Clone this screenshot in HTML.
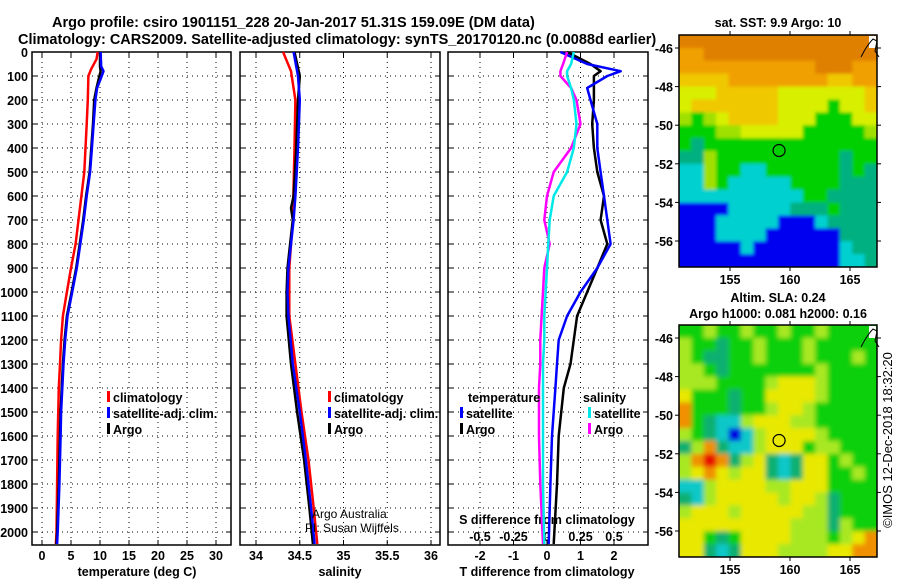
<!DOCTYPE html>
<html><head><meta charset="utf-8">
<style>
html,body{margin:0;padding:0;background:#fff;}
svg{display:block;font-family:"Liberation Sans",sans-serif;}
.b{font-weight:bold;}
</style></head>
<body>
<svg id="fig" width="900" height="580" viewBox="0 0 900 580" xmlns="http://www.w3.org/2000/svg">
<defs>
<filter id="soft" x="0" y="0" width="1" height="1"><feGaussianBlur stdDeviation="2.5"/></filter>
<filter id="soft2" x="0" y="0" width="1" height="1"><feGaussianBlur stdDeviation="1.5"/></filter>
<clipPath id="clipTop"><rect x="679" y="35" width="198" height="232"/></clipPath>
<clipPath id="clipBot"><rect x="679" y="325" width="198" height="232"/></clipPath>
</defs>
<text class="b" x="52" y="27" font-size="14.5">Argo profile: csiro 1901151_228 20-Jan-2017 51.31S 159.09E (DM data)</text>
<text class="b" x="18" y="44" font-size="14.5">Climatology: CARS2009. Satellite-adjusted climatology: synTS_20170120.nc (0.0088d earlier)</text>
<g id="layer"></g>
</svg>
<script>
// ---------- data ----------
const depthTicks=[0,100,200,300,400,500,600,700,800,900,1000,1100,1200,1300,1400,1500,1600,1700,1800,1900,2000];
const tempTicks=[0,5,10,15,20,25,30];
const salTicks=[34,34.5,35,35.5,36];
const salTickLabels=["34","34.5","35","35.5","36"];
const tdTicks=[-2,-1,0,1,2];
const sdTicks=[-0.5,-0.25,0,0.25,0.5];
const sdTickLabels=["-0.5","-0.25","0","0.25","0.5"];

const tDepthRed=[0,30,70,100,200,300,400,500,600,700,800,900,1000,1100,1200,1300,1400,1600,1800,2000,2050];
const tempClim=[9.6,9.4,8.5,8.0,7.9,7.7,7.5,7.3,6.8,6.3,5.8,5.0,4.3,3.6,3.3,3.1,2.9,2.7,2.6,2.5,2.4];
const tDepth=[0,60,80,100,150,200,300,400,500,600,700,800,900,1000,1100,1200,1300,1400,1500,1600,1800,2000,2050];
const tempSat=[10.1,10.2,10.6,10.3,9.5,9.2,8.9,8.6,8.3,7.7,7.2,6.6,6.0,5.2,4.4,4.0,3.7,3.5,3.3,3.2,3.0,2.7,2.6];
const tempArgo=[10.0,10.0,10.1,9.9,9.4,9.0,8.8,8.5,8.2,7.6,7.1,6.5,5.9,5.1,4.3,3.9,3.6,3.4,3.2,3.1,2.9,2.6,2.5];

const sDepthRed=[0,80,200,400,700,900,1100,1300,1500,1700,1900,2050];
const salClim=[34.31,34.4,34.45,34.44,34.42,34.38,34.38,34.45,34.52,34.6,34.66,34.7];
const sDepth=[0,100,200,400,600,650,700,800,900,1000,1100,1300,1500,1700,1900,2050];
const salSat=[34.43,34.48,34.5,34.48,34.45,34.44,34.43,34.4,34.37,34.36,34.37,34.42,34.5,34.57,34.63,34.67];
const salArgo=[34.44,34.5,34.48,34.46,34.43,34.4,34.42,34.39,34.36,34.35,34.35,34.4,34.47,34.55,34.61,34.65];

const dDepth=[0,50,80,100,150,200,300,400,500,600,700,800,900,1000,1100,1200,1300,1400,1600,1800,2050];
const tdSat=[0.4,1.2,2.2,1.8,1.2,1.3,1.5,1.5,1.6,1.7,1.8,1.9,1.5,1.0,0.6,0.35,0.3,0.25,0.15,0.1,0.05];
const tdArgo=[0.6,1.3,1.6,1.4,1.4,1.4,1.35,1.4,1.5,1.7,1.6,1.8,1.5,1.2,0.9,0.8,0.7,0.5,0.35,0.3,0.2];
const sdSat=[0.2,0.18,0.15,0.15,0.18,0.2,0.22,0.2,0.15,0.05,0.02,0.01,0,-0.01,-0.02,-0.02,-0.03,-0.03,-0.03,-0.03,-0.02];
const sdArgo=[0.15,0.12,0.1,0.1,0.18,0.22,0.25,0.18,0.05,0.0,-0.02,0.02,-0.02,-0.03,-0.04,-0.05,-0.05,-0.06,-0.06,-0.05,-0.03];

const lonTicks=[155,160,165];
const latTicks=[-46,-48,-50,-52,-54,-56];
const argoLon=159.09, argoLat=-51.31;
const sstRows=["OOOOOOOOOOOOOOOO","ooOOOOOOOOOOOOOO","oooooooooooOOOoo","YYYYooooooooYYoo","yyyYYYYYyyyyyyyY","yYYYYYYYyyyyGyyY","gGgyYYYYyyyGGGyy","GGGggyyyyyGGGGGg","GTGGGGGGGGGGGGGG","TTgGGGGGGGGGGTGG","CCgGGCCGGGGGGTGT","CCgGCCCCCGGGGTTT","CCCCCCCCCCGGTTTT","BBBBCCCCCTTTGTTT","BBBCCCCCBBBCTTTT","BBBCCCCBBBBBBTTT","BBBBBCBBBBBBBCTT","BBBBBBBBBBBBBCCT"];
const slaRows=["GGgGGgGGgGGgGGGG","gGGTGGgGGGgGGGGG","gGTTGGgGGGgGGGgG","ggGTGGGGGGGgGGGG","gggGGGGgyyygGGGG","yGGGTGGyyyygGGGG","oGGGTGGgyygGGGGG","oGTCCgyyyggGGGGG","gGTCBCgyyyygGGGG","TgoTCCgyyyGggGGG","goRoTgyTCTyyGgGG","gyoygyyTCTyyGGgG","CCgyyyyggyyyGGGG","TCgyyyyygyygTGGG","gyyygyyyyyggTGGG","yyyyyyyyygggTgGG","yyGTGyyyygggGgyo","yyTCTyyyggggyyoo"];

// ---------- helpers ----------
const NS="http://www.w3.org/2000/svg";
const L=document.getElementById('layer');
function mk(tag,attrs,parent){const e=document.createElementNS(NS,tag);for(const k in attrs)e.setAttribute(k,attrs[k]);(parent||L).appendChild(e);return e;}
function txt(x,y,s,size,anchor,bold){const t=mk('text',{x:x,y:y,'font-size':size,'text-anchor':anchor||'start','font-weight':bold===false?'normal':'bold'});t.textContent=s;return t;}
const Y0=52,Y1=545;
const yD=d=>Y0+d*0.24;
function lin(d0,d1,r0,r1){return v=>r0+(v-d0)*(r1-r0)/(d1-d0);}

function panel(x0,x1,xs,ticks,name){
  const g=mk('g',{});
  
  
  ticks.forEach(v=>{const x=xs(v);
    const gl=mk('line',{x1:x,y1:Y0,x2:x,y2:Y1,stroke:'#000','stroke-width':1,'stroke-dasharray':'1 4'},g);
    
    mk('line',{x1:x,y1:Y1,x2:x,y2:Y1-5,stroke:'#000'},g);mk('line',{x1:x,y1:Y0,x2:x,y2:Y0+5,stroke:'#000'},g);});
  depthTicks.forEach(d=>{const y=yD(d);
    const gl=mk('line',{x1:x0,y1:y,x2:x1,y2:y,stroke:'#000','stroke-width':1,'stroke-dasharray':'1 4'},g);
    
    mk('line',{x1:x0,y1:y,x2:x0+5,y2:y,stroke:'#000'},g);mk('line',{x1:x1,y1:y,x2:x1-5,y2:y,stroke:'#000'},g);});
  const r=mk('rect',{x:x0,y:Y0,width:x1-x0,height:Y1-Y0,fill:'none',stroke:'#000','stroke-width':1.5},g);
  
  return g;
}
function line(xs,vals,depths,color,name,w){
  const pts=vals.map((v,i)=>xs(v).toFixed(1)+','+yD(depths[i]).toFixed(1)).join(' ');
  const p=mk('polyline',{points:pts,fill:'none',stroke:color,'stroke-width':w||2.5,'stroke-linejoin':'round'});
  
  
}
function legendItem(x,y,color,label,name){
  mk('rect',{x:x,y:y-11,width:3,height:11,fill:color});
  const t=txt(x+6,y,label,12.5);
  
  
}

// ---------- y axis labels ----------
depthTicks.forEach(d=>{const t=txt(28,yD(d)+5,String(d),12.5,'end');
  
  });

// ---------- panel 1: temperature ----------
const xT=lin(0,30,42,216);
panel(32,231,xT,tempTicks,'temperature-panel');
tempTicks.forEach(v=>{const t=txt(xT(v),560,String(v),12.5,'middle');
  });
let t1=txt(137,576,'temperature (deg C)',12.5,'middle');

line(xT,tempClim,tDepthRed,'#ff0000','temp-climatology-line');
line(xT,tempArgo,tDepth,'#000','temp-argo-line');
line(xT,tempSat,tDepth,'#0000ff','temp-satellite-line');
legendItem(107,402,'#ff0000','climatology','temp-legend-climatology');
legendItem(107,418,'#0000ff','satellite-adj. clim.','temp-legend-satellite');
legendItem(107,434,'#000','Argo','temp-legend-argo');

// ---------- panel 2: salinity ----------
const xS=lin(34,36,256,431);
panel(240,440,xS,salTicks,'salinity-panel');
salTicks.forEach((v,i)=>{const t=txt(xS(v),560,salTickLabels[i],12.5,'middle');
  });
let t2=txt(340,576,'salinity',12.5,'middle');

line(xS,salClim,sDepthRed,'#ff0000','sal-climatology-line');
line(xS,salArgo,sDepth,'#000','sal-argo-line');
line(xS,salSat,sDepth,'#0000ff','sal-satellite-line');
legendItem(328,402,'#ff0000','climatology','sal-legend-climatology');
legendItem(328,418,'#0000ff','satellite-adj. clim.','sal-legend-satellite');
legendItem(328,434,'#000','Argo','sal-legend-argo');
let c1=txt(312,518,'Argo Australia',12,'start',false);

let c2=txt(305,532,'PI: Susan Wijffels',12,'start',false);


// ---------- panel 3: differences ----------
const xTD=lin(0,2,547,614);
const xSD=lin(0,0.5,547,614);
panel(448,648,xTD,tdTicks,'difference-panel');
tdTicks.forEach(v=>{const t=txt(xTD(v),560,String(v),12.5,'middle');
  });
sdTicks.forEach((v,i)=>{const t=txt(xSD(v),541,sdTickLabels[i],12.5,'middle');
  });
let t3=txt(547,576,'T difference from climatology',12.5,'middle');

let t4=txt(547,524,'S difference from climatology',12.5,'middle');

line(xTD,tdArgo,dDepth,'#000','tdiff-argo-line');
line(xTD,tdSat,dDepth,'#0000ff','tdiff-satellite-line');
line(xSD,sdArgo,dDepth,'#ff00ff','sdiff-argo-line');
line(xSD,sdSat,dDepth,'#00e8e8','sdiff-satellite-line');
let lt=txt(468,402,'temperature',12.5);
let ls=txt(583,402,'salinity',12.5);
legendItem(460,418,'#0000ff','satellite','tdiff-legend-satellite');
legendItem(460,434,'#000','Argo','tdiff-legend-argo');
legendItem(588,418,'#00e8e8','satellite','sdiff-legend-satellite');
legendItem(588,434,'#ff00ff','Argo','sdiff-legend-argo');

// ---------- maps ----------
const sstColors={O:'#e08000',o:'#f0a000',Y:'#f0c800',y:'#d8f000',g:'#a0e000',G:'#00d000',T:'#00b080',C:'#00d0d0',B:'#0000f0'};
const slaColors={G:'#10d010',g:'#a8e820',y:'#e8e800',o:'#f09000',R:'#e81000',T:'#10b070',C:'#10c8c8',B:'#0000e0'};
function map(top,rows,colors,name,lat46,filt,clip){
  const x0=679,x1=877,y1=top+232;
  const g=mk('g',{});
  
  
  const cells=mk('g',{'clip-path':'url(#'+clip+')'},g);
  const inner=mk('g',{filter:'url(#'+filt+')'},cells);
  const nr=rows.length,nc=rows[0].length,cw=(x1-x0)/nc,ch=232/nr;
  mk('rect',{x:x0-10,y:top-10,width:x1-x0+20,height:252,fill:colors[rows[0][0]]},inner);
  rows.forEach((row,ri)=>{for(let ci=0;ci<nc;ci++){
    const ex=(ci==0?-10:0), ey=(ri==0?-10:0), exw=(ci==nc-1?10:0), exh=(ri==nr-1?10:0);
    const c=mk('rect',{x:(x0+ci*cw+ex).toFixed(2),y:(top+ri*ch+ey).toFixed(2),width:(cw+0.5-ex+exw).toFixed(2),height:(ch+0.5-ey+exh).toFixed(2),fill:colors[row[ci]]},inner);
    
    }});
  const xL=lin(155,165,730,850);
  const yL=lin(-46,-56,lat46,lat46+193);
  mk('rect',{x:x0,y:top,width:x1-x0,height:232,fill:'none',stroke:'#000','stroke-width':1.5},g);
  lonTicks.forEach(v=>{const x=xL(v);mk('line',{x1:x,y1:top,x2:x,y2:top-4,stroke:'#000'},g);mk('line',{x1:x,y1:y1,x2:x,y2:y1+4,stroke:'#000'},g);
    const t=txt(x,y1+17,String(v),12.5,'middle');});
  latTicks.forEach(v=>{const y=yL(v);mk('line',{x1:x0,y1:y,x2:x0-4,y2:y,stroke:'#000'},g);mk('line',{x1:x1,y1:y,x2:x1+4,y2:y,stroke:'#000'},g);
    const t=txt(673,y+5,String(v),12.5,'end');});
  const m=mk('circle',{cx:xL(argoLon),cy:yL(argoLat),r:6,fill:'none',stroke:'#000','stroke-width':1.2},g);
  
  
  mk('rect',{x:x1-8,y:top+1,width:7,height:12,fill:'#fff'},g);
  mk('path',{d:`M${x1-16} ${top+22} q6 -12 12 -18 l4 2 l-2 10 l4 6`,fill:'none',stroke:'#000','stroke-width':1},g);
}
map(35,sstRows,sstColors,'sst-map',48,'soft2','clipTop');
map(325,slaRows,slaColors,'sla-map',338,'soft','clipBot');
let m1=txt(778,27,'sat. SST: 9.9 Argo: 10',12.5,'middle');
let m2=txt(778,302,'Altim. SLA: 0.24',12.5,'middle');
let m3=txt(778,318,'Argo h1000: 0.081 h2000: 0.16',12.5,'middle');
let ts=mk('text',{x:0,y:0,'font-size':13,'text-anchor':'middle',transform:'translate(892,440) rotate(-90)'});
ts.textContent='©IMOS 12-Dec-2018 18:32:20';


</script>
</body></html>
